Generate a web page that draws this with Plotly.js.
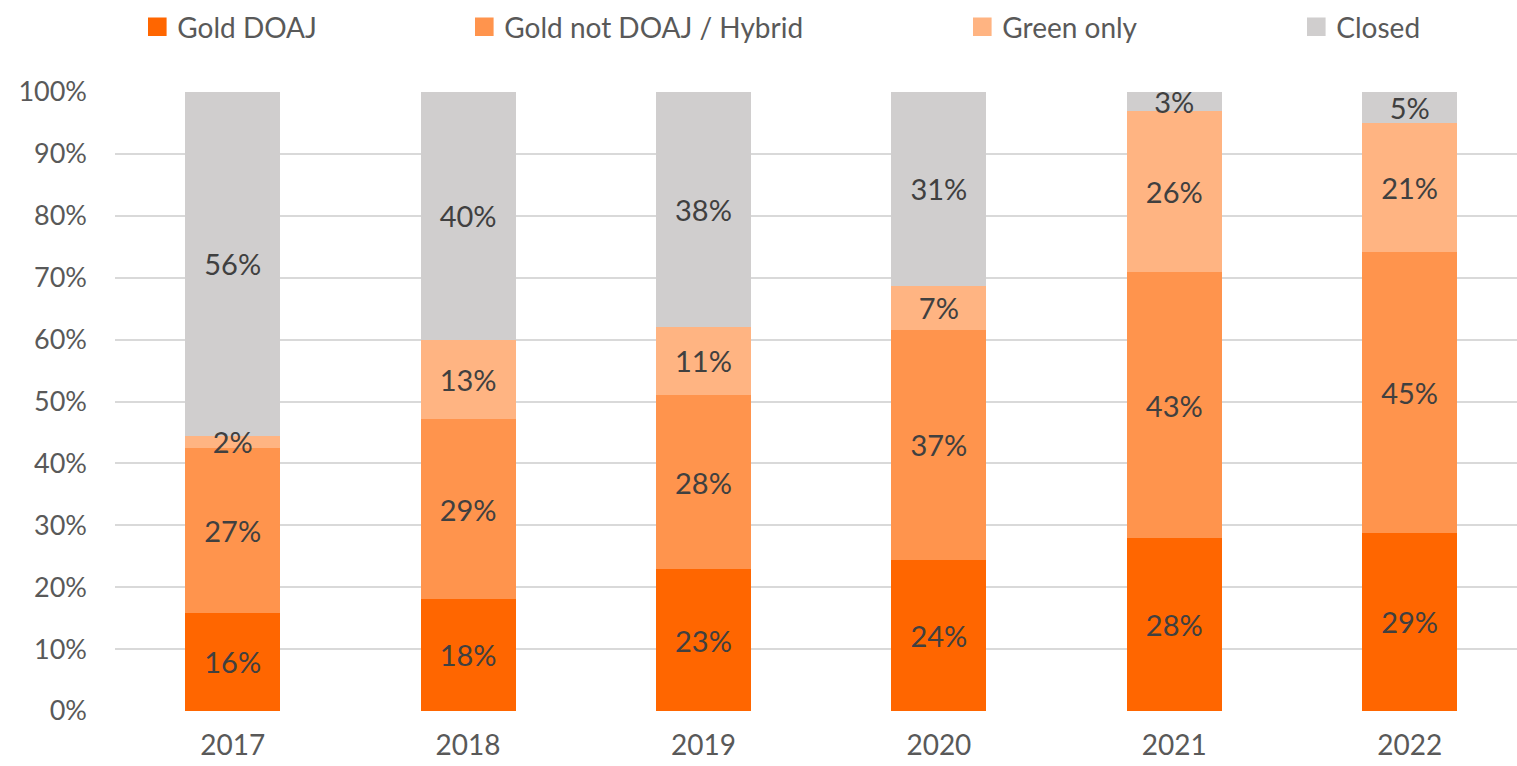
<!DOCTYPE html>
<html>
<head>
<meta charset="utf-8">
<script src="https://cdn.plot.ly/plotly-3.0.1.min.js"></script>
<style>html,body{margin:0;padding:0;background:#fff;}#chart{width:1517px;height:766px;}</style>
</head>
<body>
<div id="chart"></div>
<script>
const years = ['2017', '2018', '2019', '2020', '2021', '2022'];
const goldDOAJ = [15.9, 18.1, 22.9, 24.4, 27.9, 28.8];
const goldNotDOAJ = [26.6, 29.0, 28.1, 37.2, 43.0, 45.3];
const greenOnly = [2.0, 12.9, 11.1, 7.1, 26.1, 20.9];
const closed = [55.5, 40.0, 37.9, 31.3, 3.0, 5.0];
const yTickValues = [0, 10, 20, 30, 40, 50, 60, 70, 80, 90, 100];
const yTickLabels = ['0%', '10%', '20%', '30%', '40%', '50%', '60%', '70%', '80%', '90%', '100%'];

const seriesNames = ['Gold DOAJ', 'Gold not DOAJ / Hybrid', 'Green only', 'Closed'];
const seriesValues = [goldDOAJ, goldNotDOAJ, greenOnly, closed];
const seriesColors = ['#FF6600', '#FF944D', '#FFB482', '#D0CECE'];
const legendIds = ['legend', 'legend2', 'legend3', 'legend4'];
const legendMarkerLeftPx = [148, 475, 973, 1307];

const W = 1517, H = 766;
const mL = 115, mR = 0, mT = 92, mB = 55;
const plotW = W - mL - mR;
const SYM_SCALE = 1.55;

const traces = seriesNames.map((name, i) => ({
  type: 'bar',
  name: name,
  x: years,
  y: seriesValues[i],
  legend: legendIds[i],
  marker: {color: seriesColors[i], line: {width: 0}},
  text: seriesValues[i].map(v => Math.round(v) + '%'),
  texttemplate: '%{text}',
  textposition: 'inside',
  insidetextanchor: 'middle',
  constraintext: 'none',
  textangle: 0,
  insidetextfont: {family: 'Lato, sans-serif', size: 29, color: '#404040'},
  hoverinfo: 'skip'
}));

const layout = {
  width: W, height: H,
  margin: {l: mL, r: mR, t: mT, b: mB, pad: 0},
  paper_bgcolor: '#ffffff',
  plot_bgcolor: '#ffffff',
  barmode: 'stack',
  bargap: 0.596,
  showlegend: true,
  font: {family: 'Lato, sans-serif', color: '#595959'},
  xaxis: {
    type: 'category',
    range: [-0.5, 5.456],
    showgrid: false, zeroline: false, showline: false,
    ticks: '', ticklen: 0,
    ticklabelstandoff: 15,
    tickfont: {family: 'Lato, sans-serif', size: 28, color: '#595959'},
    fixedrange: true
  },
  yaxis: {
    range: [0, 100],
    tickmode: 'array',
    tickvals: yTickValues,
    ticktext: yTickLabels,
    showgrid: true, gridcolor: '#D9D9D9', gridwidth: 2,
    zeroline: false, showline: false, ticks: '',
    ticklabelstandoff: 27,
    tickfont: {family: 'Lato, sans-serif', size: 27, color: '#595959'},
    fixedrange: true
  }
};

const symHalf = 6 * SYM_SCALE;
legendIds.forEach((id, i) => {
  const originPx = legendMarkerLeftPx[i] - (20 - symHalf);
  layout[id] = {
    x: (originPx - mL) / plotW,
    xanchor: 'left',
    y: (H - mB - 27) / (H - mT - mB),
    yanchor: 'middle',
    orientation: 'h',
    bgcolor: 'rgba(0,0,0,0)',
    borderwidth: 0,
    font: {family: 'Lato, sans-serif', size: 28, color: '#595959'}
  };
});

Plotly.newPlot('chart', traces, layout, {displayModeBar: false, staticPlot: true}).then(gd => {
  // enlarge legend swatches
  gd.querySelectorAll('.legendpoints path').forEach(p => {
    const t = p.getAttribute('transform') || '';
    p.setAttribute('transform', t + ' scale(' + SYM_SCALE + ')');
  });
  // draw bar labels above all stacked segments
  const barlayer = gd.querySelector('.barlayer');
  if (barlayer) {
    const labelGroup = document.createElementNS('http://www.w3.org/2000/svg', 'g');
    barlayer.appendChild(labelGroup);
    barlayer.querySelectorAll('.bartext').forEach(t => labelGroup.appendChild(t));
  }
});
</script>
</body>
</html>
